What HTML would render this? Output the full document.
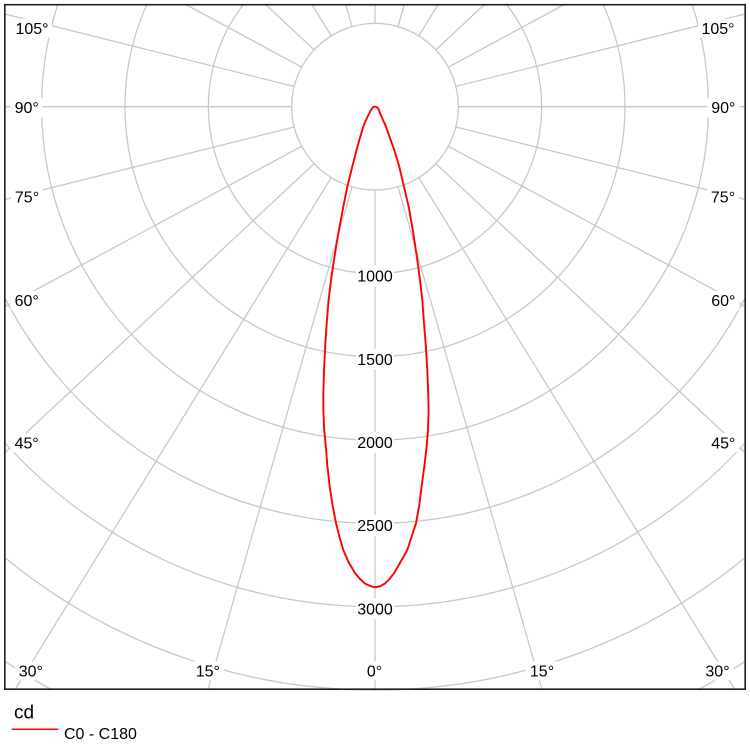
<!DOCTYPE html>
<html>
<head>
<meta charset="utf-8">
<style>
html,body{margin:0;padding:0;background:#fff;width:750px;height:750px;overflow:hidden;}
svg{display:block;overflow:hidden;}
text{font-family:"Liberation Sans","DejaVu Sans",sans-serif;fill:#000;}
</style>
</head>
<body>
<svg width="750" height="750" viewBox="0 0 750 750" xmlns="http://www.w3.org/2000/svg">
<rect x="0" y="0" width="750" height="750" fill="#fff"/>
<g stroke="#c8c8c8" stroke-width="1.3" fill="none">
<!-- rays -->
<line x1="375" y1="106.7" x2="375" y2="689"/>
<line x1="375" y1="106.7" x2="208.1" y2="689"/>
<line x1="375" y1="106.7" x2="541.9" y2="689"/>
<line x1="375" y1="106.7" x2="15.4" y2="689"/>
<line x1="375" y1="106.7" x2="734.6" y2="689"/>
<line x1="375" y1="106.7" x2="5" y2="452.6"/>
<line x1="375" y1="106.7" x2="745" y2="452.6"/>
<line x1="375" y1="106.7" x2="5" y2="306.4"/>
<line x1="375" y1="106.7" x2="745" y2="306.4"/>
<line x1="375" y1="106.7" x2="5" y2="199.4"/>
<line x1="375" y1="106.7" x2="745" y2="199.4"/>
<line x1="375" y1="106.7" x2="5" y2="106.7"/>
<line x1="375" y1="106.7" x2="745" y2="106.7"/>
<line x1="375" y1="106.7" x2="5" y2="14"/>
<line x1="375" y1="106.7" x2="745" y2="14"/>
<line x1="375" y1="106.7" x2="186.6" y2="5"/>
<line x1="375" y1="106.7" x2="563.4" y2="5"/>
<line x1="375" y1="106.7" x2="266.2" y2="5"/>
<line x1="375" y1="106.7" x2="483.8" y2="5"/>
<line x1="375" y1="106.7" x2="312.2" y2="5"/>
<line x1="375" y1="106.7" x2="437.8" y2="5"/>
<line x1="375" y1="106.7" x2="345.85" y2="5"/>
<line x1="375" y1="106.7" x2="404.15" y2="5"/>
<line x1="375" y1="106.7" x2="375" y2="5"/>
<!-- circle arcs, clipped to frame -->
<path d="M243,5 A166.67,166.67 0 1 0 507,5"/>
<path d="M146.6,5 A250,250 0 1 0 603.4,5"/>
<path d="M57.6,5 A333.33,333.33 0 1 0 692.4,5"/>
<path d="M5,298.3 A416.67,416.67 0 0 0 745,298.3"/>
<path d="M5,443 A500,500 0 0 0 745,443"/>
<path d="M5,557.7 A583.33,583.33 0 0 0 745,557.7"/>
<path d="M5,661.3 A666.67,666.67 0 0 0 50.4,689"/>
<path d="M699.6,689 A666.67,666.67 0 0 0 745,661.3"/>
</g>
<circle cx="375" cy="106.7" r="83.33" fill="#fff" stroke="#c8c8c8" stroke-width="1.3"/>

<!-- label boxes -->
<g fill="#fff">
<rect x="356" y="265.3" width="38" height="21"/>
<rect x="356" y="348.7" width="38" height="21"/>
<rect x="356" y="431.7" width="38" height="21"/>
<rect x="356" y="515" width="38" height="21"/>
<rect x="356" y="598.3" width="38" height="21"/>

<rect x="12" y="18.7" width="40" height="19"/>
<rect x="10.5" y="98" width="32" height="19"/>
<rect x="11" y="187.3" width="32" height="19"/>
<rect x="10.5" y="291" width="32" height="19"/>
<rect x="10.5" y="433.3" width="32" height="19"/>
<rect x="14.8" y="661.3" width="32" height="19"/>
<rect x="191.8" y="661.3" width="32" height="19"/>
<rect x="364" y="661.3" width="21" height="19"/>

<rect x="698" y="18.7" width="40" height="19"/>
<rect x="707.3" y="98" width="32" height="19"/>
<rect x="707" y="187.3" width="32" height="19"/>
<rect x="707.3" y="291" width="32" height="19"/>
<rect x="707.3" y="433.3" width="32" height="19"/>
<rect x="701.5" y="661.3" width="32" height="19"/>
<rect x="526" y="661.3" width="32" height="19"/>
</g>

<g font-size="16" text-anchor="middle">
<text x="375" y="281.5">1000</text>
<text x="375" y="364.9">1500</text>
<text x="375" y="447.9">2000</text>
<text x="375" y="531.2">2500</text>
<text x="375" y="614.5">3000</text>

<text x="32" y="33.9">105°</text>
<text x="26.7" y="113.2">90°</text>
<text x="27" y="202.5">75°</text>
<text x="26.7" y="306.2">60°</text>
<text x="26.7" y="448.5">45°</text>
<text x="30.8" y="676.5">30°</text>
<text x="207.8" y="676.5">15°</text>
<text x="374.5" y="676.5">0°</text>

<text x="718" y="33.9">105°</text>
<text x="723.3" y="113.2">90°</text>
<text x="723" y="202.5">75°</text>
<text x="723.3" y="306.2">60°</text>
<text x="723.3" y="448.5">45°</text>
<text x="717.5" y="676.5">30°</text>
<text x="542" y="676.5">15°</text>
</g>

<!-- curve -->
<polyline fill="none" stroke="#ff0000" stroke-width="1.9" stroke-linejoin="round" points="
375,106.3 372.6,107.6 371,110 369.3,113.3 367.6,116.6 366,120 364.6,123.3 363.3,126.7 361.3,133.3 359.3,140 357.5,146.6 355.7,153.3 354,160 352.3,166.7 349.8,176.7 347.3,186.7 345.3,196.7 343.3,206.7 340.8,220 338.3,233.3 336.1,246.6 334,260 331,280 328.6,300 326.7,323.3 325.3,345 324,370 323.3,395 323.4,412 324.2,430 325.7,445 327.3,465 329.5,485 332.5,505 336,523 339.5,537 343.3,550 348.5,562 355,573 360,579 365,583.5 370,586 375,587.3
380,586.3 385,583.5 389.5,579 394,573.3 400.5,562 407.3,550 411.5,537 416,523.3 419.3,505 421.8,485 424.5,465 426.8,445 428,430 428.6,412 428.3,395 427.3,370 425.8,345 424,323.3 422.3,300 420,280 417.3,260 415.3,246.6 413.3,233.3 411,220 408.7,206.7 406.3,196.7 404,186.7 401.6,176.7 399.3,166.7 397.3,160 395.3,153.3 393,146.6 390.7,140 388.3,133.3 386,126.7 384.5,123.3 383,120 381.5,116.6 380,113.3 379,110 377.4,107.6 375,106.3"/>

<!-- frame -->
<rect x="4.8" y="4.7" width="740.4" height="684.5" fill="none" stroke="#1e1e1e" stroke-width="1.6"/>

<!-- legend -->
<text x="14" y="718.3" font-size="19">cd</text>
<line x1="11.7" y1="729.3" x2="58.3" y2="729.3" stroke="#ff0000" stroke-width="1.5"/>
<text x="64" y="739" font-size="16">C0 - C180</text>
</svg>
</body>
</html>
